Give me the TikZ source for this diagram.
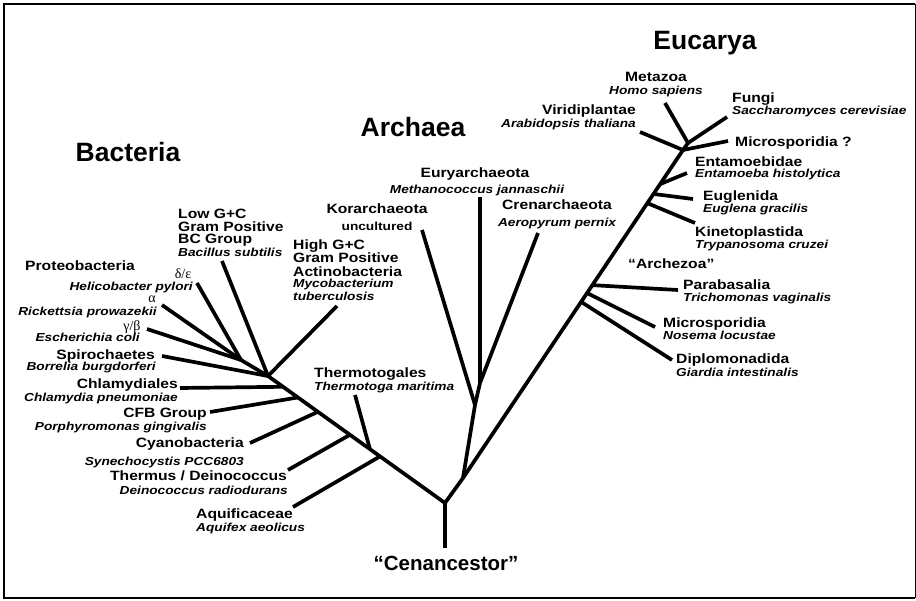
\documentclass[tikz,border=0pt]{standalone}
\usepackage{fontspec}
\setmainfont{Liberation Sans}
\newfontfamily\wideA[FakeStretch=1.16]{Liberation Sans}
\newfontfamily\wideB[FakeStretch=1.18]{Liberation Sans}
\newfontfamily\greekf{Liberation Serif}
\usetikzlibrary{calc}
\begin{document}
\begin{tikzpicture}[x=1pt,y=-1pt,
 br/.style={line width=3.7pt, line cap=butt, line join=round},
 clade/.style={font=\wideA\bfseries\fontsize{13.5}{14}\selectfont, inner sep=0pt},
 spec/.style={font=\wideB\bfseries\itshape\fontsize{11.6}{12}\selectfont, inner sep=0pt},
 unc/.style={font=\wideB\bfseries\fontsize{11.6}{12}\selectfont, inner sep=0pt},
 ttl/.style={font=\bfseries\fontsize{26.5}{28}\selectfont, inner sep=0pt},
 cen/.style={font=\bfseries\fontsize{20.5}{22}\selectfont, inner sep=0pt},
 grk/.style={font=\greekf\fontsize{14}{14}\selectfont, inner sep=0pt}]
\useasboundingbox (0,0) rectangle (916,601);
\draw[line width=2.6pt] (915,4) -- (4,4) -- (4,598) -- (915,598);
\draw[line width=0.8pt] (915,4) -- (915,598);

% ---------- tree skeleton ----------
\coordinate (R0) at (445,548);
\coordinate (R) at (445,503);
\coordinate (AE) at (463,478);
\coordinate (BT) at (268,376);
\coordinate (P) at (241,360);
\coordinate (Baq) at ($(R)!0.367!(BT)$);
\coordinate (Btt) at ($(R)!0.424!(BT)$);
\coordinate (Bth) at ($(R)!0.537!(BT)$);
\coordinate (Bcy) at ($(R)!0.718!(BT)$);
\coordinate (Bcf) at ($(R)!0.831!(BT)$);
\coordinate (Bch) at ($(R)!0.915!(BT)$);
% bacterial leaf ends
\coordinate (Laq) at (293,507);
\coordinate (Ltt) at (355,395);
\coordinate (Lth) at (288,470);
\coordinate (Lcy) at (250,443);
\coordinate (Lcf) at (210,412);
\coordinate (Lch) at (180,388);
\coordinate (Lsp) at (162,356);
\coordinate (Lhg) at (337,306);
\coordinate (Llg) at (222,261);
\coordinate (Lde) at (197,283);
\coordinate (Lal) at (162,305);
\coordinate (Lgb) at (147,329);
% archaea
\coordinate (A1) at (475,405);
\coordinate (A2) at (480,383);
\coordinate (Lko) at (422,230);
\coordinate (Leu) at (480,197);
\coordinate (Lcr) at (538,233);
% eucarya
\coordinate (E1) at (683,150);
\coordinate (E2) at (688,143);
\coordinate (Edi) at ($(AE)!0.537!(E1)$);
\coordinate (Emi) at ($(AE)!0.564!(E1)$);
\coordinate (Epa) at ($(AE)!0.588!(E1)$);
\coordinate (Eki) at ($(AE)!0.838!(E1)$);
\coordinate (Eeg) at ($(AE)!0.866!(E1)$);
\coordinate (Een) at ($(AE)!0.896!(E1)$);
\coordinate (Ldi) at (672,360);
\coordinate (Lmi) at (655,327);
\coordinate (Lpa) at (678,290);
\coordinate (Lki) at (695,223);
\coordinate (Leg) at (693,199);
\coordinate (Len) at (687,173);
\coordinate (Lvi) at (640,132);
\coordinate (Lme) at (665,103);
\coordinate (Lfu) at (727,117);
\coordinate (Lms) at (728,141);

\draw[br] (R0) -- (R);
\draw[br] (R) -- (BT);
\draw[br] (R) -- (AE);
\draw[br] (BT) -- (P);
\draw[br] (Baq) -- (Laq);
\draw[br] (Btt) -- (Ltt);
\draw[br] (Bth) -- (Lth);
\draw[br] (Bcy) -- (Lcy);
\draw[br] (Bcf) -- (Lcf);
\draw[br] (Bch) -- (Lch);
\draw[br] (BT) -- (Lsp);
\draw[br] (BT) -- (Lhg);
\draw[br] (BT) -- (Llg);
\draw[br] (P) -- (Lde);
\draw[br] (P) -- (Lal);
\draw[br] (P) -- (Lgb);
\draw[br] (AE) -- (A1);
\draw[br] (A1) -- (A2);
\draw[br] (A1) -- (Lko);
\draw[br] (A2) -- (Leu);
\draw[br] (A2) -- (Lcr);
\draw[br] (AE) -- (E1);
\draw[br] (E1) -- (E2);
\draw[br] (Edi) -- (Ldi);
\draw[br] (Emi) -- (Lmi);
\draw[br] (Epa) -- (Lpa);
\draw[br] (Eki) -- (Lki);
\draw[br] (Eeg) -- (Leg);
\draw[br] (Een) -- (Len);
\draw[br] (E1) -- (Lvi);
\draw[br] (E2) -- (Lme);
\draw[br] (E2) -- (Lfu);
\draw[br] (E1) -- (Lms);

% ---------- titles ----------
\node[ttl, anchor=base] (tBac) at (128,162) {Bacteria};
\node[ttl, anchor=base] (tArc) at (413,137) {Archaea};
\node[ttl, anchor=base] (tEuc) at (705,50) {Eucarya};
\node[cen, anchor=base] (tCen) at (446,570) {“Cenancestor”};

% ---------- Bacteria labels ----------
\node[clade, anchor=base west] (proteo) at (25,271) {Proteobacteria};
\node[grk, anchor=base] (gde) at (183,279) {δ/ε};
\node[spec, anchor=base east] (helico) at (193,291) {Helicobacter pylori};
\node[grk, anchor=base] (gal) at (152,303) {α};
\node[spec, anchor=base east] (ricket) at (157,316) {Rickettsia prowazekii};
\node[grk, anchor=base] (ggb) at (132,331) {γ/β};
\node[spec, anchor=base east] (ecoli) at (140,342) {Escherichia coli};
\node[clade, anchor=base east] (spiro) at (155,360) {Spirochaetes};
\node[spec, anchor=base east] (borrel) at (156,371) {Borrelia burgdorferi};
\node[clade, anchor=base east] (chlam) at (178,389) {Chlamydiales};
\node[spec, anchor=base east] (chlpn) at (178,402) {Chlamydia pneumoniae};
\node[clade, anchor=base east] (cfb) at (207,418) {CFB Group};
\node[spec, anchor=base east] (porph) at (207,431) {Porphyromonas gingivalis};
\node[clade, anchor=base east] (cyano) at (244,448) {Cyanobacteria};
\node[spec, anchor=base east] (synech) at (244,465) {Synechocystis PCC6803};
\node[clade, anchor=base east] (thermus) at (287,481) {Thermus / Deinococcus};
\node[spec, anchor=base east] (deino) at (288,494) {Deinococcus radiodurans};
\node[clade, anchor=base west] (aquif) at (196,518) {Aquificaceae};
\node[spec, anchor=base west] (aqaeo) at (196,531) {Aquifex aeolicus};
\node[clade, anchor=base west] (thtog) at (314,378) {Thermotogales};
\node[spec, anchor=base west] (thmar) at (314,391) {Thermotoga maritima};
\node[clade, anchor=base west] (hg1) at (293,250) {High G+C};
\node[clade, anchor=base west] (hg2) at (293,263) {Gram Positive};
\node[clade, anchor=base west] (hg3) at (293,277) {Actinobacteria};
\node[spec, anchor=base west] (hg4) at (293,288) {Mycobacterium};
\node[spec, anchor=base west] (hg5) at (293,301) {tuberculosis};
\node[clade, anchor=base west] (lg1) at (178,219) {Low G+C};
\node[clade, anchor=base west] (lg2) at (178,232) {Gram Positive};
\node[clade, anchor=base west] (lg3) at (178,244) {BC Group};
\node[spec, anchor=base west] (lg4) at (178,257) {Bacillus subtilis};

% ---------- Archaea labels ----------
\node[clade, anchor=base] (kor) at (377,214) {Korarchaeota};
\node[unc, anchor=base] (uncul) at (377,231) {uncultured};
\node[clade, anchor=base] (eury) at (475,178) {Euryarchaeota};
\node[spec, anchor=base] (metha) at (477,194) {Methanococcus jannaschii};
\node[clade, anchor=base] (cren) at (557,210) {Crenarchaeota};
\node[spec, anchor=base] (aero) at (557,227) {Aeropyrum pernix};

% ---------- Eucarya labels ----------
\node[clade, anchor=base] (meta) at (656,82) {Metazoa};
\node[spec, anchor=base] (homo) at (656,95) {Homo sapiens};
\node[clade, anchor=base east] (viri) at (636,115) {Viridiplantae};
\node[spec, anchor=base east] (arab) at (636,128) {Arabidopsis thaliana};
\node[clade, anchor=base west] (fungi) at (732,103) {Fungi};
\node[spec, anchor=base west] (sacch) at (732,115) {Saccharomyces cerevisiae};
\node[clade, anchor=base west] (micq) at (735,147) {Microsporidia ?};
\node[clade, anchor=base west] (entam) at (695,167) {Entamoebidae};
\node[spec, anchor=base west] (enhis) at (695,178) {Entamoeba histolytica};
\node[clade, anchor=base west] (eugl) at (703,201) {Euglenida};
\node[spec, anchor=base west] (eugra) at (703,213) {Euglena gracilis};
\node[clade, anchor=base west] (kine) at (695,237) {Kinetoplastida};
\node[spec, anchor=base west] (trypa) at (695,249) {Trypanosoma cruzei};
\node[clade, anchor=base west] (archz) at (628,269) {“Archezoa”};
\node[clade, anchor=base west] (para) at (683,290) {Parabasalia};
\node[spec, anchor=base west] (trich) at (683,302) {Trichomonas vaginalis};
\node[clade, anchor=base west] (micro) at (663,328) {Microsporidia};
\node[spec, anchor=base west] (nosem) at (663,340) {Nosema locustae};
\node[clade, anchor=base west] (diplo) at (676,364) {Diplomonadida};
\node[spec, anchor=base west] (giard) at (676,377) {Giardia intestinalis};
\end{tikzpicture}
\end{document}
